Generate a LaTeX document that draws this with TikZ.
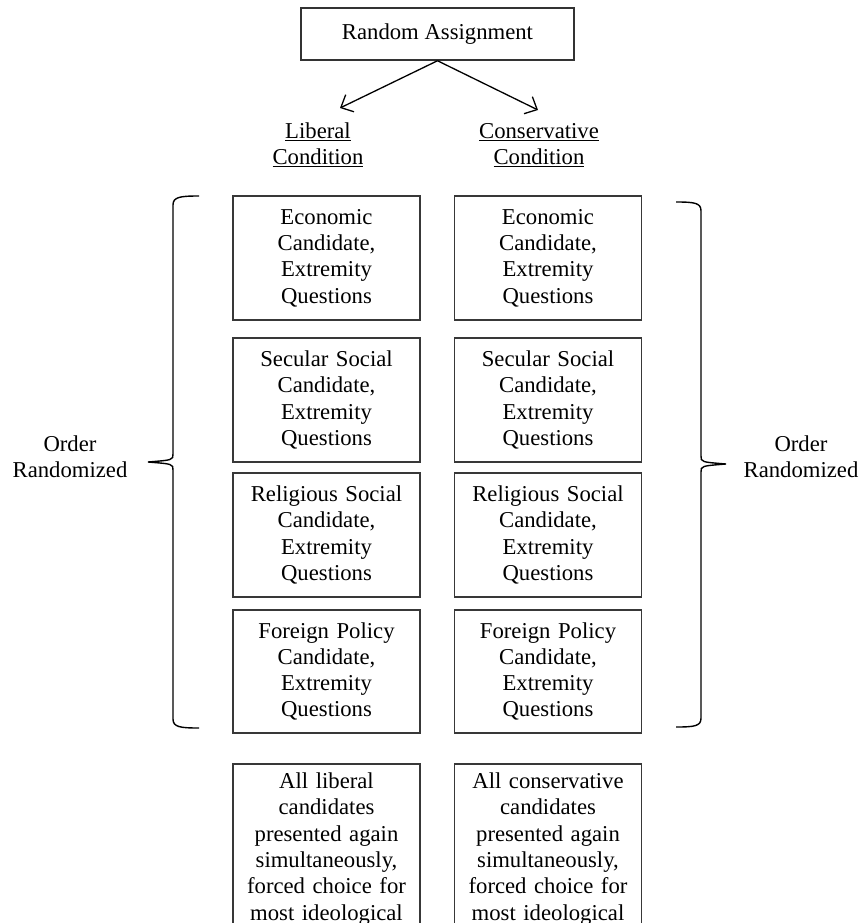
\documentclass[tikz,border=0pt]{standalone}
\usepackage{fontspec}
\setmainfont{Liberation Serif}
\usetikzlibrary{arrows.meta}
\begin{document}
\begin{tikzpicture}[x=1pt,y=-1pt,
  txt/.style={font=\fontsize{22.7}{26.3}\selectfont, align=center, inner sep=0pt},
  cbox/.style={txt, draw=black!78, line width=1.5pt, minimum width=187pt, minimum height=124pt, text width=180pt},
  endbox/.style={txt, draw=black!78, line width=1.5pt, minimum width=187pt, text width=180pt, inner ysep=9pt, anchor=north},
  arr/.style={line width=1.3pt, -{Straight Barb[length=10pt,width=19pt,line width=1.3pt]}},
  brace/.style={line width=1.4pt, black}]
\useasboundingbox (0,0) rectangle (861,923);
\clip (0,0) rectangle (861,923);
% top
\node[txt, draw=black!80, line width=1.5pt, minimum width=273pt, minimum height=52pt] (ra) at (437.5,34) {Random Assignment};
\node[txt] (lib) at (318,145) {\underline{Liberal}\\\underline{Condition}};
\node[txt] (con) at (539,145) {\underline{Conservative}\\\underline{Condition}};
\coordinate (lt) at (340,108);
\coordinate (rt) at (538,110);
\draw[arr] (ra.south) -- (lt);
\draw[arr] (ra.south) -- (rt);
% left column
\node[cbox] (l1) at (326.5,258) {Economic\\Candidate,\\Extremity\\Questions};
\node[cbox] (l2) at (326.5,400) {Secular Social\\Candidate,\\Extremity\\Questions};
\node[cbox] (l3) at (326.5,535) {Religious Social\\Candidate,\\Extremity\\Questions};
\node[cbox, minimum height=123pt] (l4) at (326.5,671.5) {Foreign Policy\\Candidate,\\Extremity\\Questions};
% right column
\node[cbox] (r1) at (548,258) {Economic\\Candidate,\\Extremity\\Questions};
\node[cbox] (r2) at (548,400) {Secular Social\\Candidate,\\Extremity\\Questions};
\node[cbox] (r3) at (548,535) {Religious Social\\Candidate,\\Extremity\\Questions};
\node[cbox, minimum height=123pt] (r4) at (548,671.5) {Foreign Policy\\Candidate,\\Extremity\\Questions};
% bottom boxes
\node[endbox] (lb) at (326.5,763) {All liberal\\candidates\\presented again\\simultaneously,\\forced choice for\\most ideological};
\node[endbox] (rb) at (548,763) {All conservative\\candidates\\presented again\\simultaneously,\\forced choice for\\most ideological};
% order randomized labels
\node[txt] (ol) at (70,457) {Order\\Randomized};
\node[txt] (or) at (801,457) {Order\\Randomized};
% braces
\coordinate (lbt) at (199,196);
\coordinate (lbtip) at (148,462);
\coordinate (lbb) at (199,728);
\draw[brace] (lbt) .. controls (180,196) and (173,197) .. (173,205) -- (173,454)
  .. controls (173,460) .. (lbtip) .. controls (173,464) .. (173,470) -- (173,719)
  .. controls (173,727) and (180,728) .. (lbb);
\coordinate (rbt) at (676,202);
\coordinate (rbtip) at (726,464);
\coordinate (rbb) at (676,727);
\draw[brace] (rbt) .. controls (695,202) and (701,203) .. (701,211) -- (701,456)
  .. controls (701,462) .. (rbtip) .. controls (701,466) .. (701,472) -- (701,718)
  .. controls (701,726) and (695,727) .. (rbb);
\end{tikzpicture}
\end{document}
